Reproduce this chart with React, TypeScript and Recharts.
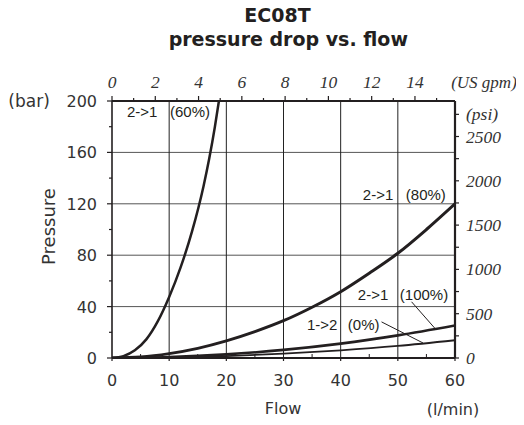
import React from "react";
import {
  LineChart,
  Line,
  XAxis,
  YAxis,
  ReferenceLine,
  ReferenceDot,
} from "recharts";

// flow in l/min, pressure drop in bar
const flow60 = [0, 2, 4, 6, 8, 10, 12, 14, 16, 17, 18, 18.7];
const bar60 = [0, 1.5, 6, 14.5, 28.5, 47.5, 70.5, 98.5, 133.5, 155, 180, 200];

const flow80 = [0, 5, 10, 15, 20, 25, 30, 35, 40, 45, 50, 55, 60];
const bar80 = [0, 0.8, 3.4, 7.5, 13.3, 20.5, 29, 39.5, 51.6, 66, 81.5, 100, 120];

const flow100 = [0, 10, 20, 30, 40, 50, 60];
const bar100 = [0, 0.7, 2.8, 6.3, 11.2, 17.6, 25.3];

const flow0 = [0, 10, 20, 30, 40, 50, 60];
const bar0 = [0, 0.4, 1.5, 3.4, 6, 9.4, 13.8];

const flowTicks = [0, 5, 10, 15, 20, 25, 30, 35, 40, 45, 50, 55, 60];
const barTicks = [0, 20, 40, 60, 80, 100, 120, 140, 160, 180, 200];
const gpmTicks = [0, 1, 2, 3, 4, 5, 6, 7, 8, 9, 10, 11, 12, 13, 14, 15];
const psiTicks = [0, 250, 500, 750, 1000, 1250, 1500, 1750, 2000, 2250, 2500, 2750];
const gridBar = [40, 80, 120, 160];
const gridFlow = [10, 20, 30, 40, 50];

const LMIN_PER_GPM = 3.78541;
const PSI_PER_BAR = 14.5038;

const toRows = (xs: number[], ys: number[]) => xs.map((x, i) => ({ flow: x, bar: ys[i] }));

const rows60 = toRows(flow60, bar60);
const rows80 = toRows(flow80, bar80);
const rows100 = toRows(flow100, bar100);
const rows0 = toRows(flow0, bar0);

// gpm ticks placed on the l/min scale
const gpmTicksInFlow = gpmTicks.map((g) => g * LMIN_PER_GPM);

// curve labels: [text, flow, bar] at the text's left baseline
const curveLabels: [string, number, number][] = [
  ["2->1", 2.62, 187.5],
  ["(60%)", 10.14, 187.5],
  ["2->1", 43.88, 123.3],
  ["(80%)", 51.4, 123.3],
  ["2->1", 43.0, 45.4],
  ["(100%)", 50.35, 45.4],
  ["1->2", 34.1, 22.0],
  ["(0%)", 41.26, 22.0],
];

const leaders = [
  [{ x: 52.4, y: 43.75 }, { x: 56.5, y: 23.0 }],
  [{ x: 47.15, y: 28.1 }, { x: 54.4, y: 11.7 }],
];

const INK = "#231f20";
const TXT = "#333";
const SANS = "DejaVu Sans, Verdana, sans-serif";
const SERIF = "Liberation Serif, Times New Roman, serif";
const ARIAL = "Liberation Sans, Arial, sans-serif";

const BottomTick = (props: any) => {
  const { x, y, payload } = props;
  const v = payload.value;
  const major = v % 10 === 0;
  return (
    <g>
      {major ? (
        <line x1={x} x2={x} y1={y} y2={y + 3} stroke={INK} strokeWidth={1.2} />
      ) : (
        <line x1={x} x2={x} y1={y} y2={y - 4} stroke={INK} strokeWidth={1} />
      )}
      {major && (
        <text x={x} y={y + 28} textAnchor="middle" fontFamily={SANS} fontSize={16} fill={TXT}>
          {v}
        </text>
      )}
    </g>
  );
};

const LeftTick = (props: any) => {
  const { x, y, payload } = props;
  const v = payload.value;
  const major = v % 40 === 0;
  return (
    <g>
      <line x1={x - (major ? 5 : 3)} x2={x} y1={y} y2={y} stroke={INK} strokeWidth={1.2} />
      {major && (
        <text x={x - 15} y={y + 6} textAnchor="end" fontFamily={SANS} fontSize={16} fill={TXT}>
          {v}
        </text>
      )}
      {v === 200 && (
        <text x={x - 103.7} y={y + 6} textAnchor="start" fontFamily={SANS} fontSize={17} fill={TXT}>
          (bar)
        </text>
      )}
    </g>
  );
};

const TopTick = (props: any) => {
  const { x, y, payload } = props;
  const g = Math.round(payload.value / LMIN_PER_GPM);
  const major = g % 2 === 0;
  return (
    <g>
      <line x1={x} x2={x} y1={y - (major ? 5 : 3)} y2={y} stroke={INK} strokeWidth={1.2} />
      {major && (
        <text x={x} y={y - 13} textAnchor="middle" fontFamily={SERIF} fontStyle="italic" fontSize={17.5} fill={TXT}>
          {g}
        </text>
      )}
    </g>
  );
};

const RightTick = (props: any) => {
  const { x, y, payload } = props;
  const v = payload.value;
  const label = v === 2750 ? "(psi)" : v % 500 === 0 ? String(v) : "";
  return (
    <g>
      <line x1={x} x2={x + 4} y1={y} y2={y} stroke={INK} strokeWidth={1.2} />
      {label && (
        <text x={x + 11} y={y + 6} textAnchor="start" fontFamily={SERIF} fontStyle="italic" fontSize={17.5} fill={TXT}>
          {label}
        </text>
      )}
    </g>
  );
};

const FlowTitle = (props: any) => {
  const vb = props.viewBox;
  return (
    <g fontFamily={SANS} fontSize={16} fill={TXT}>
      <text x={vb.x + vb.width / 2 - 0.5} y={vb.y + 56} textAnchor="middle">
        Flow
      </text>
      <text x={vb.x + vb.width - 2} y={vb.y + 57} textAnchor="middle">
        (l/min)
      </text>
    </g>
  );
};

const PressureTitle = (props: any) => {
  const vb = props.viewBox;
  const cx = 47;
  const cy = vb.y + vb.height / 2 - 3;
  return (
    <text
      x={cx}
      y={cy}
      transform={`rotate(-90, ${cx}, ${cy})`}
      textAnchor="middle"
      fontFamily={SANS}
      fontSize={18}
      fill={TXT}
    >
      Pressure
    </text>
  );
};

const GpmTitle = (props: any) => {
  const vb = props.viewBox;
  return (
    <text
      x={vb.x + vb.width + 29}
      y={vb.y + vb.height - 13}
      textAnchor="middle"
      fontFamily={SERIF}
      fontStyle="italic"
      fontSize={17}
      fill={TXT}
    >
      (US gpm)
    </text>
  );
};

export default function App() {
  return (
    <div style={{ position: "relative", width: 516, height: 417 }}>
      <LineChart width={516} height={417} margin={{ top: 0, right: 0, bottom: 0, left: 0 }}>
        <XAxis
          xAxisId="flow"
          dataKey="flow"
          type="number"
          orientation="bottom"
          domain={[0, 60]}
          ticks={flowTicks}
          interval={0}
          allowDataOverflow
          height={67}
          tickSize={0}
          tickMargin={0}
          tickLine={false}
          tick={<BottomTick />}
          axisLine={{ stroke: INK, strokeWidth: 2 }}
          label={<FlowTitle />}
        />
        <XAxis
          xAxisId="gpm"
          dataKey="flow"
          type="number"
          orientation="top"
          domain={[0, 60]}
          ticks={gpmTicksInFlow}
          interval={0}
          allowDataOverflow
          height={93}
          tickSize={0}
          tickMargin={0}
          tickLine={false}
          tick={<TopTick />}
          axisLine={{ stroke: INK, strokeWidth: 2 }}
          label={<GpmTitle />}
        />
        <YAxis
          yAxisId="bar"
          type="number"
          domain={[0, 200]}
          ticks={barTicks}
          interval={0}
          allowDataOverflow
          width={104}
          tickSize={0}
          tickMargin={0}
          tickLine={false}
          tick={<LeftTick />}
          axisLine={{ stroke: INK, strokeWidth: 1.6 }}
          label={<PressureTitle />}
        />
        <YAxis
          yAxisId="psi"
          type="number"
          orientation="right"
          domain={[0, 200 * PSI_PER_BAR]}
          ticks={psiTicks}
          interval={0}
          allowDataOverflow
          width={69}
          tickSize={0}
          tickMargin={0}
          tickLine={false}
          tick={<RightTick />}
          axisLine={{ stroke: INK, strokeWidth: 2.2 }}
        />

        {gridBar.map((v) => (
          <ReferenceLine key={"h" + v} xAxisId="flow" yAxisId="bar" y={v} stroke="#555" strokeWidth={1} />
        ))}
        {gridFlow.map((v) => (
          <ReferenceLine key={"v" + v} xAxisId="flow" yAxisId="bar" x={v} stroke="#222" strokeWidth={1} />
        ))}

        <Line xAxisId="flow" yAxisId="bar" data={rows60} dataKey="bar" type="monotone" stroke={INK} strokeWidth={2.5} dot={false} isAnimationActive={false} />
        <Line xAxisId="flow" yAxisId="bar" data={rows80} dataKey="bar" type="monotone" stroke={INK} strokeWidth={3} dot={false} isAnimationActive={false} />
        <Line xAxisId="flow" yAxisId="bar" data={rows100} dataKey="bar" type="monotone" stroke={INK} strokeWidth={2.6} dot={false} isAnimationActive={false} />
        <Line xAxisId="flow" yAxisId="bar" data={rows0} dataKey="bar" type="monotone" stroke={INK} strokeWidth={1.8} dot={false} isAnimationActive={false} />

        {leaders.map((seg, i) => (
          <ReferenceLine key={"l" + i} xAxisId="flow" yAxisId="bar" segment={seg} stroke={INK} strokeWidth={1} />
        ))}
        {curveLabels.map(([t, x, y], i) => (
          <ReferenceDot
            key={"t" + i}
            xAxisId="flow"
            yAxisId="bar"
            x={x}
            y={y}
            r={0}
            shape={(p: any) => (
              <text x={p.cx} y={p.cy} fontFamily={ARIAL} fontSize={15} fill={INK}>
                {t}
              </text>
            )}
          />
        ))}
      </LineChart>
      <svg width={524} height={60} style={{ position: "absolute", left: -8, top: -8, pointerEvents: "none" }}>
        <text x={277.5} y={22} textAnchor="middle" fontFamily={SANS} fontWeight="bold" fontSize={19} fill={INK}>
          EC08T
        </text>
        <text x={288.3} y={45.5} textAnchor="middle" fontFamily={SANS} fontWeight="bold" fontSize={19} fill={INK}>
          pressure drop vs. flow
        </text>
      </svg>
    </div>
  );
}
